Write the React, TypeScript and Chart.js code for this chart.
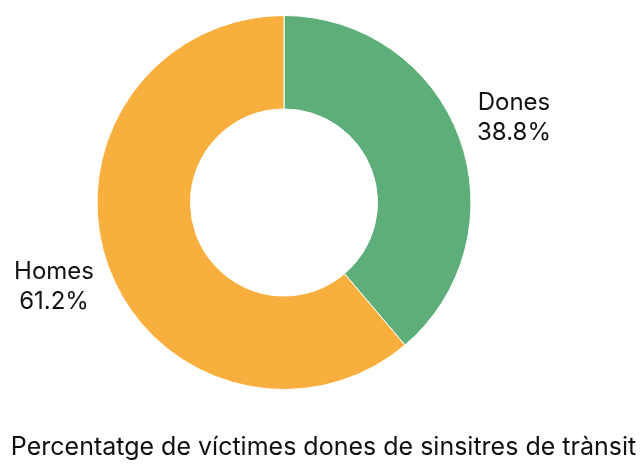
import React, { useEffect, useRef } from "react";
import { Chart, registerables } from "chart.js";

Chart.register(...registerables);

const categories = ["Dones", "Homes"];
const values = [38.8, 61.2];
const colors = ["#5EAE7A", "#F8AF3E"];
const titleText = "Percentatge de víctimes dones de sinsitres de trànsit";

const FONT = "Inter, 'Noto Sans', sans-serif";

const labelPlugin = {
  id: "outerLabels",
  afterDraw(chart: any) {
    const ctx = chart.ctx;
    const meta = chart.getDatasetMeta(0);
    ctx.save();
    ctx.fillStyle = "#111";
    ctx.font = `24px ${FONT}`;
    ctx.textAlign = "center";
    ctx.textBaseline = "middle";
    meta.data.forEach((arc: any, i: number) => {
      const { x, y, startAngle, endAngle, outerRadius } = arc.getProps(
        ["x", "y", "startAngle", "endAngle", "outerRadius"],
        true
      );
      const mid = (startAngle + endAngle) / 2;
      const r = outerRadius + 58;
      const lx = x + Math.cos(mid) * r;
      const ly = y + Math.sin(mid) * r;
      ctx.fillText(categories[i], lx, ly - 15);
      ctx.fillText(values[i].toFixed(1) + "%", lx, ly + 15);
    });
    ctx.font = `25px ${FONT}`;
    ctx.fillText(titleText, chart.width / 2 + 2, 447);
    ctx.restore();
  },
};

export default function App() {
  const ref = useRef<HTMLCanvasElement>(null);
  useEffect(() => {
    const chart = new Chart(ref.current!, {
      type: "doughnut",
      data: {
        labels: categories,
        datasets: [
          {
            data: values,
            backgroundColor: colors,
            borderColor: "#ffffff",
            borderWidth: 1,
          },
        ],
      },
      options: {
        animation: false,
        responsive: false,
        cutout: "50%",
        layout: { padding: { top: 15, bottom: 74, left: 96, right: 171 } },
        plugins: {
          legend: { display: false },
          tooltip: { enabled: false },
          title: { display: false },
        },
      },
      plugins: [labelPlugin],
    });
    return () => chart.destroy();
  }, []);
  return (
    <div style={{ position: "fixed", left: 0, top: 0, width: 643, height: 464, background: "#fff" }}>
      <canvas ref={ref} width={643} height={464} style={{ width: 643, height: 464 }} />
    </div>
  );
}
